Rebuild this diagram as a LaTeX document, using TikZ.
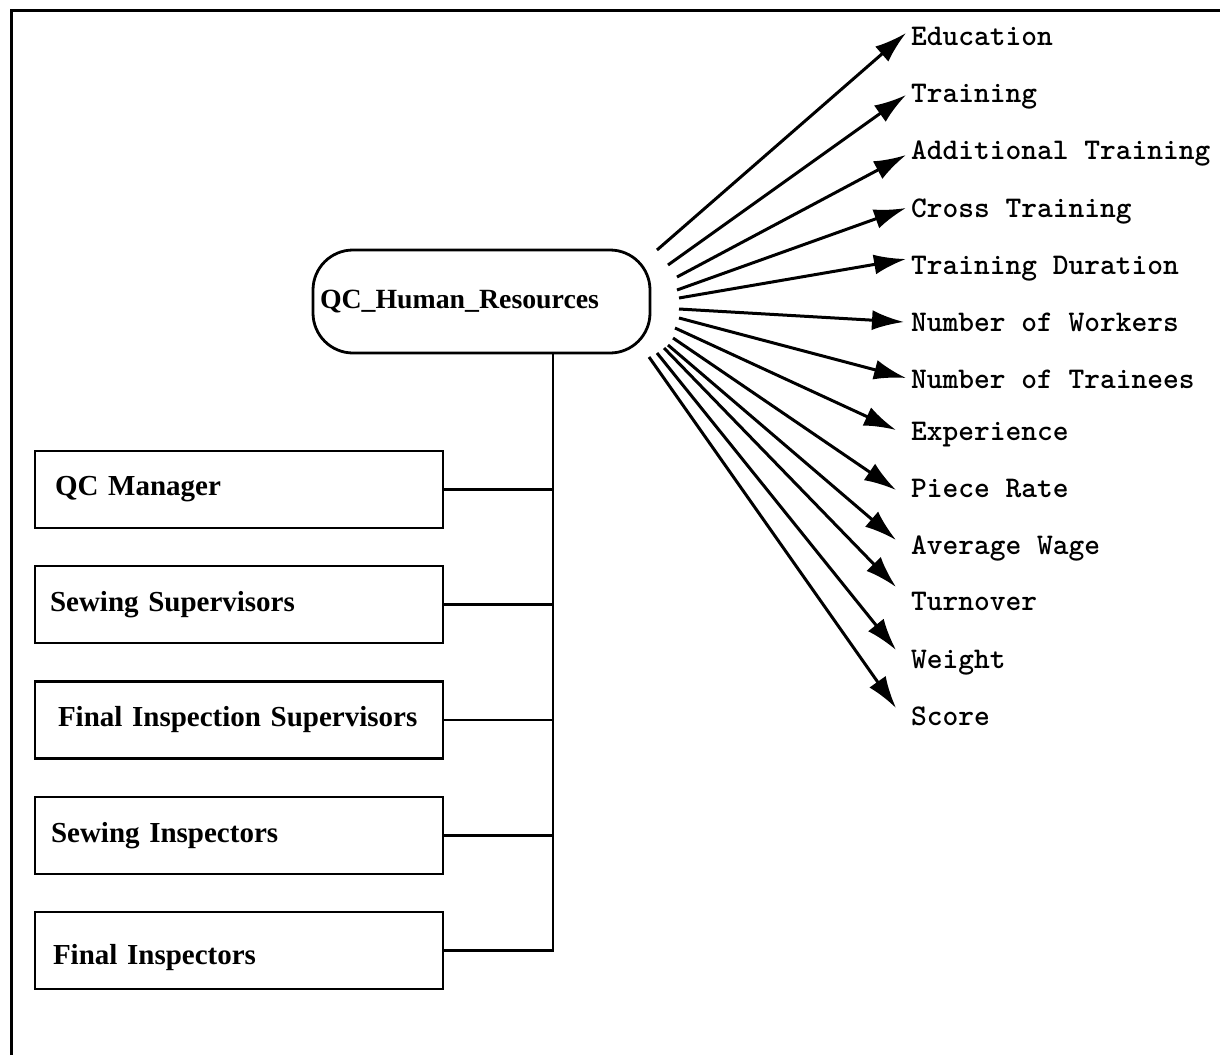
\documentclass[tikz,border=0pt]{standalone}
\usepackage{fontspec}
\setmainfont{Liberation Serif}
\usetikzlibrary{arrows.meta}
\begin{document}
\begin{tikzpicture}[x=1pt,y=-1pt,
  frameline/.style={line width=3pt},
  hub/.style={draw, line width=2.8pt, rounded corners=40pt,
    minimum width=337pt, minimum height=103pt, text width=337pt,
    inner xsep=0pt, align=left, font=\bfseries\fontsize{27.8}{30}\selectfont},
  rolebox/.style={draw, line width=2.8pt, minimum width=408pt,
    minimum height=77pt, text width=408pt, inner xsep=0pt, align=left,
    font=\bfseries\fontsize{29}{31}\selectfont},
  attr/.style={inner sep=0pt, anchor=base west,
    font=\ttfamily\bfseries\fontsize{30}{32}\selectfont},
  link/.style={line width=2.8pt},
  fan/.style={line width=3pt, -{Latex[length=32pt,width=20pt]}}
]
\useasboundingbox (0,0) rectangle (1220,1055);

% open frame: left and top edges only
\draw[frameline] (11,1055) -- (11,10) -- (1220,10);

% central entity
\node[hub] (hr) at (481.5,301.5) {\hspace*{7pt}QC\_Human\_Resources};

% staff categories
\node[rolebox] (b1) at (239,489.5) {\hspace*{20pt}QC Manager};
\node[rolebox] (b2) at (239,604.5) {\hspace*{15pt}Sewing Supervisors};
\node[rolebox] (b3) at (239,720)   {\hspace*{23pt}Final Inspection Supervisors};
\node[rolebox] (b4) at (239,835.5) {\hspace*{16pt}Sewing Inspectors};
\node[rolebox] (b5) at (239,950.5) {\hspace*{18pt}\raisebox{-7pt}[\height][\depth]{Final Inspectors}};

% bus from the entity down to the staff boxes
\coordinate (bus) at ([xshift=71.5pt]hr.south);
\draw[link] (bus) |- (b5.east);
\foreach \b in {b1,b2,b3,b4}
  \draw[link] (\b.east) -- (\b.east -| bus);

% attributes fanning out to the right
\foreach \i/\txt/\ly/\sx/\sy/\tx/\ty in {
  1/Education/37/657/250/906/33,
  2/Training/94/668/265/906/95,
  3/Additional Training/151/677/277/906/155,
  4/Cross Training/209/677/290/906/208,
  5/Training Duration/266/679/298/906/259,
  6/Number of Workers/323/679/309/904/322,
  7/Number of Trainees/380/679/318/906/378,
  8/Experience/432/675/328/896/430,
  9/Piece Rate/489/673/338/896/490,
  10/Average Wage/546/668/345/896/540,
  11/Turnover/602/664/348/896/587,
  12/Weight/660/657/353/896/650,
  13/Score/717/649/357/896/708}
{
  \node[attr] (a\i) at (911,\ly+8) {\txt};
  \coordinate (s\i) at (\sx,\sy);
  \draw[fan] (s\i) -- ([shift={(\tx-911,\ty-\ly-8)}]a\i.base west);
}
\end{tikzpicture}
\end{document}
